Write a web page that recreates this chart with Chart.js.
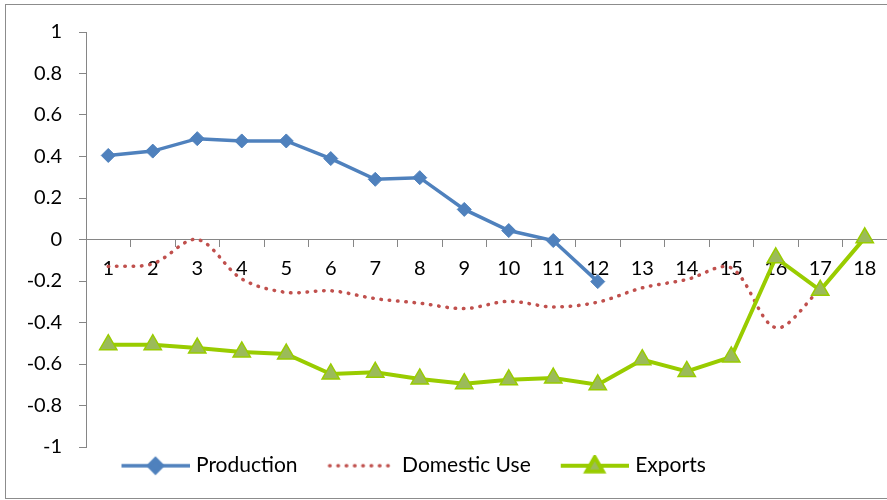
<!DOCTYPE html>
<html><head><meta charset="utf-8">
<script src="https://cdn.jsdelivr.net/npm/chart.js@4/dist/chart.umd.min.js"></script>
<style>html,body{margin:0;padding:0;background:#fff;} canvas{display:block;}</style>
</head><body>
<canvas id="c" width="887" height="500"></canvas>
<script>
const categories = ['1','2','3','4','5','6','7','8','9','10','11','12','13','14','15','16','17','18'];
const seriesNames = ['Production', 'Domestic Use', 'Exports'];
const production = [0.405, 0.426, 0.486, 0.475, 0.475, 0.39, 0.29, 0.298, 0.145, 0.043, -0.005, -0.203, null, null, null, null, null, null];
const domesticUse = [-0.13, -0.117, 0.0, -0.19, -0.255, -0.247, -0.285, -0.307, -0.333, -0.298, -0.325, -0.302, -0.233, -0.193, -0.137, -0.425, -0.24, null];
const exportsData = [-0.507, -0.507, -0.523, -0.542, -0.552, -0.648, -0.64, -0.672, -0.695, -0.676, -0.668, -0.70, -0.579, -0.636, -0.566, -0.088, -0.245, 0.008];

const FONT = 'Lato, "Open Sans", sans-serif';
const BLUE = '#4F81BD', RED = '#C0504D', GREEN = '#99CC00', OLIVE = '#9BBB59', AXIS = '#868686';
const LEGEND_SIZE = 21, LEGEND_PAD = 24;

function legendSample(kind) {
  const c = document.createElement('canvas');
  c.width = 78; c.height = 22;
  const g = c.getContext('2d');
  const x0 = 10, x1 = 78, y = 11, cx = 44;
  g.lineCap = 'butt';
  if (kind === 0) {
    g.strokeStyle = BLUE; g.lineWidth = 3.5;
    g.beginPath(); g.moveTo(x0, y); g.lineTo(x1, y); g.stroke();
    g.fillStyle = BLUE; g.strokeStyle = BLUE;
    Chart.helpers.drawPoint(g, {pointStyle: 'rectRot', radius: 7, rotation: 0, borderWidth: 1}, cx, y);
  } else if (kind === 1) {
    g.strokeStyle = RED; g.lineWidth = 3.5; g.lineCap = 'round';
    g.setLineDash([0.5, 7.8]);
    g.beginPath(); g.moveTo(x0 + 2, y); g.lineTo(x1 - 6, y); g.stroke();
  } else {
    g.strokeStyle = GREEN; g.lineWidth = 4;
    g.beginPath(); g.moveTo(x0, y); g.lineTo(x1, y); g.stroke();
    g.fillStyle = OLIVE; g.strokeStyle = GREEN;
    Chart.helpers.drawPoint(g, {pointStyle: 'triangle', radius: 9.5, rotation: 0, borderWidth: 1.5}, cx, y + 1);
  }
  return c;
}
const samples = [legendSample(0), legendSample(1), legendSample(2)];

const frame = {
  id: 'frame',
  beforeDraw(chart) {
    const ctx = chart.ctx;
    ctx.save();
    ctx.fillStyle = '#fff';
    ctx.fillRect(0, 0, chart.width, chart.height);
    ctx.strokeStyle = '#8c8c8c';
    ctx.lineWidth = 1;
    ctx.strokeRect(5.5, 4.5, 900, 494);
    ctx.restore();
  }
};
const placeLegend = {
  id: 'placeLegend',
  afterLayout(chart) {
    const L = chart.legend;
    const h = L.bottom - L.top;
    L.left = 91.5;
    L.top = 465.7 - LEGEND_PAD - LEGEND_SIZE / 2;
    L.bottom = L.top + h;
  }
};

new Chart(document.getElementById('c'), {
  type: 'line',
  data: {
    labels: categories,
    datasets: [
      {label: seriesNames[0], data: production, borderColor: BLUE, backgroundColor: BLUE, borderWidth: 3.5,
       pointStyle: 'rectRot', pointRadius: 7, pointBorderWidth: 1, pointBackgroundColor: BLUE, pointBorderColor: BLUE,
       tension: 0, order: 2},
      {label: seriesNames[1], data: domesticUse, borderColor: RED, backgroundColor: RED, borderWidth: 3.5,
       borderDash: [0.5, 7.8], borderCapStyle: 'round', pointRadius: 0, tension: 0.33, order: 1},
      {label: seriesNames[2], data: exportsData, borderColor: GREEN, backgroundColor: OLIVE, borderWidth: 4,
       pointStyle: 'triangle', pointRadius: 10, pointBorderWidth: 1.5, pointBackgroundColor: OLIVE, pointBorderColor: GREEN,
       tension: 0, order: 0}
    ]
  },
  options: {
    responsive: false,
    animation: false,
    devicePixelRatio: 1,
    events: [],
    layout: {autoPadding: false, padding: {top: 32, left: 5, right: -1, bottom: -2}},
    scales: {
      x: {
        type: 'category',
        position: {y: 0},
        offset: true,
        grid: {offset: true, drawOnChartArea: false, drawTicks: true, tickLength: 7, color: AXIS},
        border: {color: AXIS, width: 1},
        ticks: {padding: 10, color: '#000', font: {family: FONT, size: 20}, maxRotation: 0, autoSkip: false},
        afterFit(s) { s.paddingLeft = 0; s.paddingRight = 0; }
      },
      y: {
        min: -1, max: 1,
        grid: {drawOnChartArea: false, drawTicks: true, tickLength: 7, color: AXIS},
        border: {color: AXIS, width: 1},
        ticks: {stepSize: 0.2, padding: 17, color: '#000', font: {family: FONT, size: 20},
                callback: v => String(Number(v.toFixed(1)))},
        afterFit(s) { s.width = 81; }
      }
    },
    plugins: {
      tooltip: {enabled: false},
      legend: {
        position: 'bottom',
        align: 'start',
        labels: {
          usePointStyle: true, pointStyleWidth: 70, padding: LEGEND_PAD,
          color: '#000', font: {family: FONT, size: LEGEND_SIZE},
          generateLabels: () => seriesNames.map((name, i) => ({
            text: name, pointStyle: samples[i], datasetIndex: i, hidden: false,
            lineWidth: 0, fillStyle: 'transparent', strokeStyle: 'transparent', fontColor: '#000'
          }))
        }
      }
    }
  },
  plugins: [frame, placeLegend]
});
</script>
</body></html>
